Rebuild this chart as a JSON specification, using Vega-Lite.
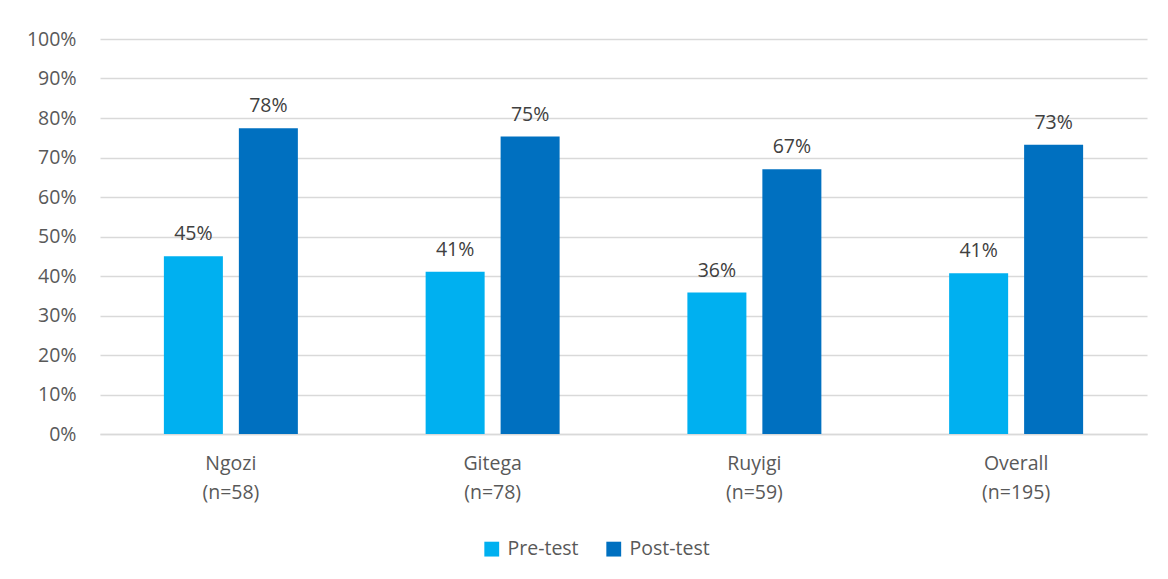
{
  "$schema": "https://vega.github.io/schema/vega-lite/v6.json",
  "width": 1047,
  "height": 395,
  "autosize": {"type": "none"},
  "padding": {"left": 100, "top": 39, "right": 21, "bottom": 145},
  "background": "white",
  "config": {
    "view": {"stroke": null},
    "font": "Open Sans"
  },
  "data": {
    "values": [
      {"site": "Ngozi|(n=58)", "test": "Pre-test", "value": 0.45, "label": "45%"},
      {"site": "Ngozi|(n=58)", "test": "Post-test", "value": 0.774, "label": "78%"},
      {"site": "Gitega|(n=78)", "test": "Pre-test", "value": 0.411, "label": "41%"},
      {"site": "Gitega|(n=78)", "test": "Post-test", "value": 0.753, "label": "75%"},
      {"site": "Ruyigi|(n=59)", "test": "Pre-test", "value": 0.358, "label": "36%"},
      {"site": "Ruyigi|(n=59)", "test": "Post-test", "value": 0.67, "label": "67%"},
      {"site": "Overall|(n=195)", "test": "Pre-test", "value": 0.407, "label": "41%"},
      {"site": "Overall|(n=195)", "test": "Post-test", "value": 0.732, "label": "73%"}
    ]
  },
  "encoding": {
    "x": {
      "field": "site", "type": "nominal", "sort": null,
      "scale": {"paddingInner": 0, "paddingOuter": 0},
      "axis": {"title": null, "labelAngle": 0, "labelExpr": "split(datum.label, '|')", "ticks": false, "domainColor": "#d9d9d9", "domainWidth": 1.5, "labelPadding": 20, "labelLineHeight": 29, "labelFontSize": 19.5, "labelColor": "#595959", "labelFont": "Open Sans"}
    },
    "xOffset": {
      "field": "test", "type": "nominal", "sort": ["Pre-test", "Post-test"],
      "scale": {"paddingInner": 0.213, "paddingOuter": 0.852}
    },
    "y": {
      "field": "value", "type": "quantitative",
      "scale": {"domain": [0, 1]},
      "axis": {"title": null, "format": ".0%", "values": [0,0.1,0.2,0.3,0.4,0.5,0.6,0.7,0.8,0.9,1], "labelOverlap": false, "ticks": false, "domain": false, "gridColor": "#d9d9d9", "gridWidth": 1.5, "labelPadding": 24, "labelFontSize": 19.5, "labelColor": "#595959", "labelFont": "Open Sans"}
    }
  },
  "layer": [
    {
      "mark": {"type": "bar"},
      "encoding": {
        "color": {
          "field": "test", "type": "nominal", "sort": ["Pre-test", "Post-test"],
          "scale": {"domain": ["Pre-test", "Post-test"], "range": ["#00b0f0", "#0070c0"]},
          "legend": {"title": null, "orient": "none", "direction": "horizontal", "legendX": 382, "legendY": 500, "symbolType": "square", "symbolSize": 220, "columnPadding": 25, "labelOffset": 6, "labelFontSize": 19.5, "labelColor": "#595959", "labelFont": "Open Sans"}
        }
      }
    },
    {
      "mark": {"type": "text", "baseline": "bottom", "dy": -12, "fontSize": 19.5, "color": "#404040", "font": "Open Sans"},
      "encoding": {"text": {"field": "label"}}
    }
  ]
}
